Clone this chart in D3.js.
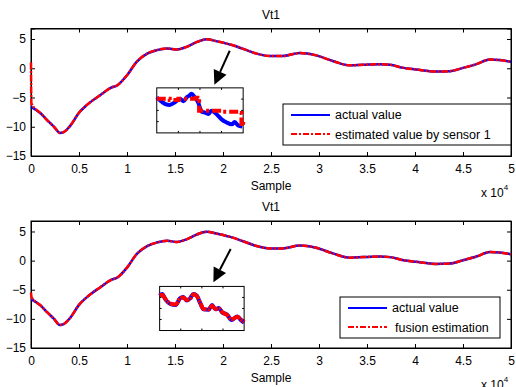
<!DOCTYPE html>
<html>
<head>
<meta charset="utf-8">
<script src="https://cdn.jsdelivr.net/npm/d3@7"></script>
<style>
  body { margin: 0; background: #fff; }
  text { font-family: "Liberation Sans", Arial, sans-serif; }
</style>
</head>
<body>
<div id="chart"></div>
<script>
// Vt1 : actual value vs estimates (two panels)

// sample positions (x 10^4) and actual value along the run
const sampleX = [0, 0.1, 0.17, 0.24, 0.30, 0.34, 0.41, 0.5, 0.58, 0.72, 0.83, 0.9, 1.0, 1.1, 1.21, 1.31,
                 1.42, 1.52, 1.62, 1.73, 1.83, 1.94, 2.11, 2.28, 2.35, 2.49, 2.62, 2.80, 2.97, 3.15, 3.32,
                 3.46, 3.63, 3.74, 3.88, 4.01, 4.22, 4.36, 4.5, 4.64, 4.78, 4.88, 5.0];
const actualY = [-6.6, -7.7, -8.9, -10.0, -11.05, -10.9, -9.8, -7.6, -6.3, -4.6, -3.35, -2.9, -1.2, 1.1, 2.5, 3.1,
                 3.4, 3.2, 3.65, 4.5, 4.96, 4.6, 3.9, 2.9, 2.5, 2.1, 2.1, 2.6, 2.2, 1.2, 0.5,
                 0.6, 0.7, 0.6, 0.07, -0.2, -0.56, -0.5, 0.07, 0.7, 1.5, 1.4, 1.1];
// initial transient of each estimator (before it joins the actual value)
const sensorStart = [[0, 1.0], [0.004, -6.0]];
const fusionStart = [[0, -5.5], [0.006, -6.3]];

// zoomed insets (t: 0..1 across the inset, u: 0..10 inset height)
const insetT1 = [0, 0.04, 0.1, 0.15, 0.21, 0.27, 0.31, 0.35, 0.38, 0.40, 0.44, 0.48, 0.52, 0.56, 0.6, 0.63, 0.69, 0.75, 0.81, 0.87, 0.9, 0.94, 0.99];
const insetActual1 = [7.9, 7.2, 6.4, 6.2, 6.8, 7.6, 7.0, 7.95, 8.3, 8.7, 7.95, 6.7, 4.7, 4.5, 4.2, 4.9, 4.2, 3.0, 2.3, 1.9, 2.4, 1.7, 1.4];
const insetSensorT = [0, 0.15, 0.25, 0.45, 0.47, 0.49, 0.75, 0.96, 0.98, 1.0];
const insetSensor = [7.6, 7.3, 7.6, 7.8, 7.0, 4.9, 4.7, 4.4, 2.0, 1.5];

const insetT2 = [0, 0.03, 0.07, 0.13, 0.19, 0.24, 0.28, 0.32, 0.36, 0.40, 0.44, 0.48, 0.52, 0.58, 0.62, 0.66, 0.70, 0.74, 0.8, 0.85, 0.92, 0.96, 1.0];
const insetActual2 = [7.9, 8.3, 7.0, 6.0, 5.8, 7.3, 7.6, 6.8, 7.3, 8.3, 7.9, 6.2, 4.8, 4.7, 5.8, 4.8, 5.1, 4.1, 3.6, 2.4, 3.2, 2.4, 1.8];
const insetFusion = [8.0, 8.1, 7.1, 6.1, 5.9, 7.2, 7.5, 6.9, 7.2, 8.2, 7.8, 6.3, 4.9, 4.8, 5.6, 4.9, 5.0, 4.2, 3.5, 2.5, 3.1, 2.5, 1.9];

const xTicks = [0, 0.5, 1, 1.5, 2, 2.5, 3, 3.5, 4, 4.5, 5];
const yTicks = [5, 0, -5, -10, -15];

const width = 516, height = 387;
const svg = d3.select("#chart").append("svg")
    .attr("width", width).attr("height", height);

const pts = (xs, ys) => xs.map((x, i) => [x, ys[i]]);

function drawPanel(p) {
    const x = d3.scaleLinear().domain([0, 5]).range([31, 511]);
    const y = d3.scaleLinear().domain([-15, 6.8]).range([p.bottom, p.top]);
    const g = svg.append("g");

    // title
    g.append("text").attr("x", 271).attr("y", p.top - 10)
        .attr("text-anchor", "middle").attr("font-size", 12).text("Vt1");

    // axes (ticks inside, box on)
    g.append("g").attr("transform", `translate(0,${p.bottom})`)
        .call(d3.axisBottom(x).tickValues(xTicks).tickSize(-4).tickPadding(8).tickFormat(d3.format("")));
    g.append("g").attr("transform", `translate(0,${p.top})`)
        .call(d3.axisTop(x).tickValues(xTicks).tickSize(-4).tickFormat(""));
    g.append("g").attr("transform", "translate(31,0)")
        .call(d3.axisLeft(y).tickValues(yTicks).tickSize(-4).tickPadding(5));
    g.append("g").attr("transform", "translate(511,0)")
        .call(d3.axisRight(y).tickValues(yTicks).tickSize(-4).tickFormat(""));
    g.selectAll(".domain").attr("stroke", "#000");
    g.selectAll(".tick line").attr("stroke", "#000");
    g.selectAll(".tick text").attr("font-size", 12).attr("fill", "#000")
        .attr("font-family", "Liberation Sans, Arial, sans-serif");
    g.append("rect").attr("x", 31).attr("y", p.top).attr("width", 480).attr("height", p.bottom - p.top)
        .attr("fill", "none").attr("stroke", "#000");

    // x label and exponent
    g.append("text").attr("x", 271).attr("y", p.bottom + 34)
        .attr("text-anchor", "middle").attr("font-size", 12).text("Sample");
    const ex = g.append("text").attr("x", 481).attr("y", p.bottom + 41).attr("font-size", 12);
    ex.append("tspan").text("x 10");
    ex.append("tspan").attr("dy", -7).attr("font-size", 8).text("4");

    // curves
    const line = d3.line().x(d => x(d[0])).y(d => y(d[1])).curve(d3.curveMonotoneX);
    const actual = pts(sampleX, actualY);
    g.append("path").datum(actual).attr("d", line)
        .attr("fill", "none").attr("stroke", "#0000ff").attr("stroke-width", 2.5);
    g.append("path").datum(p.start.concat(actual.slice(1)))
        .attr("d", line)
        .attr("fill", "none").attr("stroke", "#ff0000").attr("stroke-width", 2.5)
        .attr("stroke-dasharray", "7,1.5,2,1.5");

    // arrow
    const a0 = [x(p.arrow[0]), y(p.arrow[1])], a1 = [x(p.arrow[2]), y(p.arrow[3])];
    const ang = Math.atan2(a1[1] - a0[1], a1[0] - a0[0]);
    const hl = 14, hw = 7;
    const base = [a1[0] - hl * Math.cos(ang), a1[1] - hl * Math.sin(ang)];
    g.append("line").attr("x1", a0[0]).attr("y1", a0[1]).attr("x2", base[0]).attr("y2", base[1])
        .attr("stroke", "#000").attr("stroke-width", 2);
    g.append("path").attr("fill", "#000").attr("d",
        `M${a1[0]},${a1[1]}L${base[0] + hw * Math.sin(ang)},${base[1] - hw * Math.cos(ang)}` +
        `L${base[0] - hw * Math.sin(ang)},${base[1] + hw * Math.cos(ang)}Z`);

    // inset
    const ix = d3.scaleLinear().domain([0, 1]).range([x(p.inset[0]), x(p.inset[1])]);
    const iy = d3.scaleLinear().domain([0, 10]).range([y(p.inset[3]), y(p.inset[2])]);
    const ig = g.append("g");
    ig.append("rect").attr("x", ix(0)).attr("y", iy(10)).attr("width", ix(1) - ix(0)).attr("height", iy(0) - iy(10))
        .attr("fill", "#fff").attr("stroke", "#000");
    [0.25, 0.5, 0.75].forEach(t => {
        ig.append("line").attr("x1", ix(t)).attr("x2", ix(t)).attr("y1", iy(0)).attr("y2", iy(0) - 2).attr("stroke", "#000");
        ig.append("line").attr("x1", ix(t)).attr("x2", ix(t)).attr("y1", iy(10)).attr("y2", iy(10) + 2).attr("stroke", "#000");
        ig.append("line").attr("x1", ix(1)).attr("x2", ix(1) - 2).attr("y1", iy(t * 10)).attr("y2", iy(t * 10)).attr("stroke", "#000");
        ig.append("line").attr("x1", ix(0)).attr("x2", ix(0) + 2).attr("y1", iy(t * 10)).attr("y2", iy(t * 10)).attr("stroke", "#000");
    });
    const il = d3.line().x(d => ix(d[0])).y(d => iy(d[1]));
    ig.append("path").datum(pts(p.insetT, p.insetActual)).attr("d", il.curve(d3.curveMonotoneX))
        .attr("fill", "none").attr("stroke", "#0000ff").attr("stroke-width", 4);
    ig.append("path").datum(pts(p.insetEstT, p.insetEst)).attr("d", il.curve(p.estCurve))
        .attr("fill", "none").attr("stroke", "#ff0000").attr("stroke-width", 4)
        .attr("stroke-dasharray", p.insetDash);

    // legend
    const L = p.legend;
    const lg = g.append("g");
    lg.append("rect").attr("x", L.x).attr("y", L.y).attr("width", L.w).attr("height", L.h)
        .attr("fill", "#fff").attr("stroke", "#000");
    lg.append("line").attr("x1", L.x + 8).attr("x2", L.x + 47).attr("y1", L.y + 11).attr("y2", L.y + 11)
        .attr("stroke", "#0000ff").attr("stroke-width", 2);
    lg.append("line").attr("x1", L.x + 8).attr("x2", L.x + 47).attr("y1", L.y + 30).attr("y2", L.y + 30)
        .attr("stroke", "#ff0000").attr("stroke-width", 2).attr("stroke-dasharray", "6,2,2,2");
    lg.append("text").attr("x", L.x + 52).attr("y", L.y + 15).attr("font-size", 12.5).text("actual value");
    lg.append("text").attr("x", L.x + 52 + L.dx).attr("y", L.y + 34.5).attr("font-size", 12.5).text(p.estLabel);
}

drawPanel({
    top: 28.5, bottom: 156,
    start: sensorStart,
    arrow: [2.07, 3.0, 1.91, -2.8],
    inset: [1.31, 2.21, -3.35, -11.05],
    insetT: insetT1, insetActual: insetActual1,
    insetEstT: insetSensorT, insetEst: insetSensor, estCurve: d3.curveStepAfter,
    insetDash: "9,3,3,3",
    legend: { x: 283, y: 104, w: 228, h: 41, dx: 0 },
    estLabel: "estimated value by sensor 1"
});

drawPanel({
    top: 221, bottom: 348,
    start: fusionStart,
    arrow: [2.08, 2.0, 1.90, -3.7],
    inset: [1.34, 2.22, -4.43, -12.0],
    insetT: insetT2, insetActual: insetActual2,
    insetEstT: insetT2, insetEst: insetFusion, estCurve: d3.curveMonotoneX,
    insetDash: "10,1,2,1",
    legend: { x: 340, y: 297, w: 160, h: 41, dx: 3 },
    estLabel: "fusion estimation"
});
</script>
</body>
</html>
